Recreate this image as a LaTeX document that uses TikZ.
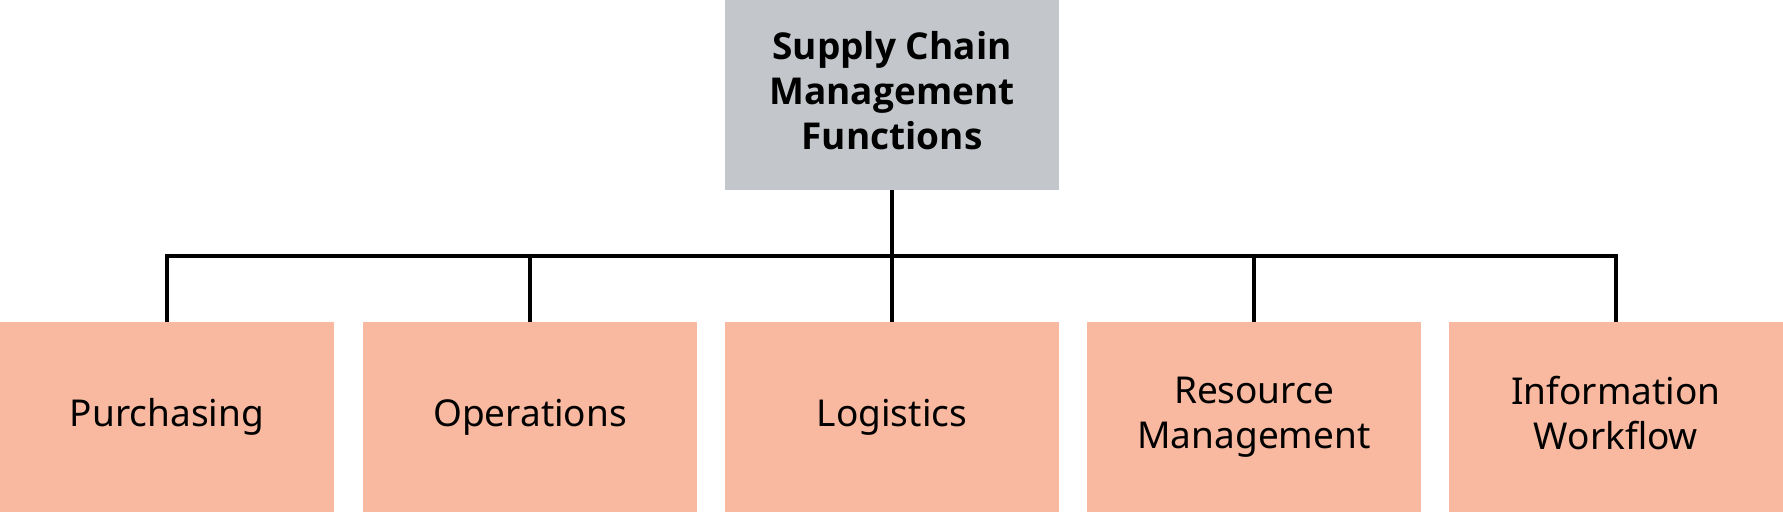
\documentclass[tikz,border=0pt]{standalone}
\usepackage{fontspec}
\setmainfont{Noto Sans}
\newfontfamily\topfont{Open Sans}
\definecolor{topgray}{RGB}{195,199,203}
\definecolor{salmon}{RGB}{248,185,160}
\tikzset{
  topbox/.style={fill=topgray, minimum width=334pt, minimum height=190pt, inner sep=0pt, align=center, font=\topfont\bfseries\fontsize{37}{45}\selectfont},
  funcbox/.style={fill=salmon, minimum width=334pt, minimum height=190pt, inner sep=0pt, align=center, font=\fontsize{37}{45}\selectfont},
  conn/.style={line width=4pt, draw=black, line join=miter}
}
\begin{document}
\begin{tikzpicture}[x=1pt,y=-1pt]
\useasboundingbox (0,0) rectangle (1783,512);
\node[topbox] (top) at (892,95) {Supply Chain\\Management\\Functions\vphantom{y}};
\node[funcbox] (b1) at (167,417) {Purchasing};
\node[funcbox] (b2) at (530,417) {Operations};
\node[funcbox] (b3) at (892,417) {Logistics};
\node[funcbox] (b4) at (1254,417) {Resource\\Management};
\node[funcbox] (b5) at (1616,417) {Information\\Workflow\vphantom{g}};
\coordinate (bus) at (892,256);
\draw[conn] (top.south) -- (b3.north);
\draw[conn] (b1.north) -- (b1.north |- bus) -- (b5.north |- bus) -- (b5.north);
\draw[conn] (b2.north) -- (b2.north |- bus);
\draw[conn] (b4.north) -- (b4.north |- bus);
\end{tikzpicture}
\end{document}
